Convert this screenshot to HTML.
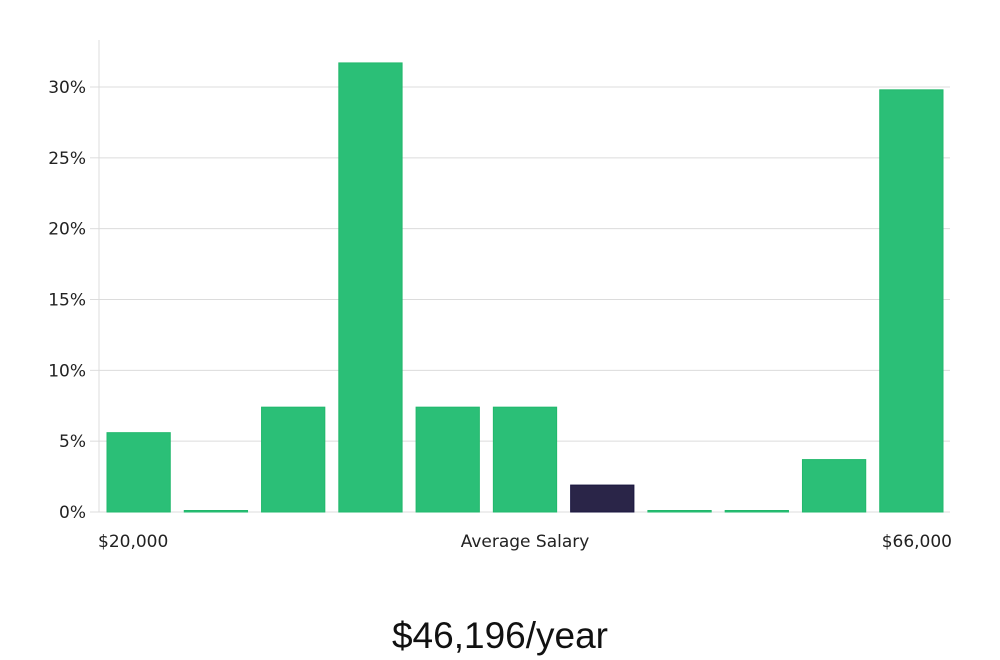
<!DOCTYPE html>
<html><head><meta charset="utf-8">
<style>
html,body{margin:0;padding:0;background:#fff;width:1000px;height:660px;overflow:hidden;font-family:"DejaVu Sans","Liberation Sans",sans-serif;}
svg{display:block}
</style></head>
<body>
<svg id="chart" width="1000" height="660" xmlns="http://www.w3.org/2000/svg"></svg>
<script>
const categories = ["b1","b2","b3","b4","b5","b6","b7","b8","b9","b10","b11"];
const values = [5.6, 0, 7.4, 31.7, 7.4, 7.4, 1.9, 0, 0, 3.7, 29.8];
const highlightIndex = 6;
const yTicks = [0,5,10,15,20,25,30];
const yTickLabels = ["0%","5%","10%","15%","20%","25%","30%"];
const xLabels = ["$20,000","Average Salary","$66,000"];
const titleText = "$46,196/year";

const NS="http://www.w3.org/2000/svg";
const svg=document.getElementById('chart');
const x0=100,x1=950,y0=512,yTop=87;
function yScale(v){return y0-(v/30)*(y0-yTop);}
const band=(x1-x0)/categories.length;
function xScale(i){return x0+i*band;}
function mk(tag,attrs){const e=document.createElementNS(NS,tag);for(const k in attrs)e.setAttribute(k,attrs[k]);svg.appendChild(e);return e;}

// grid + ticks
yTicks.forEach((t,i)=>{
  const y=yScale(t);
  const g=mk('line',{x1:x0,x2:x1,y1:y,y2:y,stroke:'#dcdcdc','stroke-width':1});
  
  
  const tk=mk('line',{x1:x0-10,x2:x0,y1:y,y2:y,stroke:'#dcdcdc','stroke-width':1});
  
  
  const tx=mk('text',{x:x0-14,y:y+6,'text-anchor':'end','font-size':17,fill:'#222'});
  tx.textContent=yTickLabels[i];
  
  
});
const ax=mk('line',{x1:x0-1,x2:x0-1,y1:40,y2:y0,stroke:'#dcdcdc','stroke-width':1});



// bars
values.forEach((v,i)=>{
  const bx=xScale(i)+7, bw=band-14;
  const top=Math.min(yScale(v),y0-1.5);
  const hl=i===highlightIndex;
  const r=mk('rect',{x:bx,y:top,width:bw,height:y0-top,fill:hl?'#2a2548':'#2bbf77',stroke:hl?'#1a1640':'#22b86c','stroke-width':1});
  
  
});

// x labels
const xl=[[x0-2,'start'],[(x0+x1)/2,'middle'],[x1+2,'end']];
xLabels.forEach((s,i)=>{
  const t=mk('text',{x:xl[i][0],y:547,'text-anchor':xl[i][1],'font-size':17,fill:'#222'});
  t.textContent=s;
  
  
});
const tt=mk('text',{x:500,y:648,'text-anchor':'middle','font-size':37,fill:'#111','font-family':'Liberation Sans, sans-serif'});
tt.textContent=titleText;


</script>
</body></html>
